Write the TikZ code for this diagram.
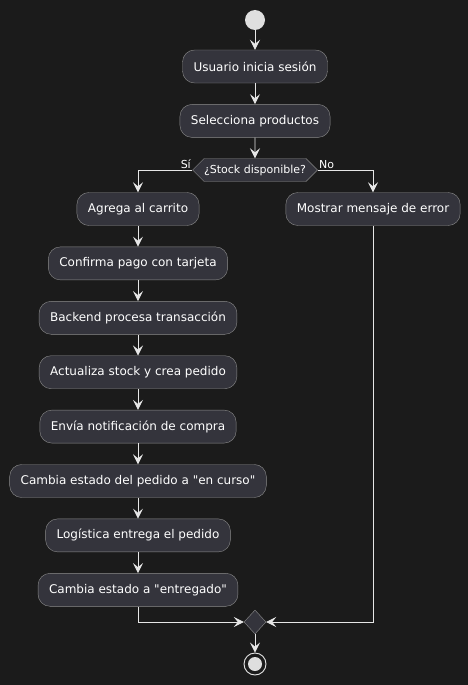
\documentclass[tikz,border=0pt]{standalone}
\usepackage{fontspec}
\setmainfont{DejaVu Sans}
\usepackage{xcolor}
\usepackage{tikz}
\usetikzlibrary{shapes.geometric, shapes.symbols, arrows.meta, positioning}

\definecolor{bgdark}{HTML}{1B1B1B}
\definecolor{actfill}{HTML}{34343C}
\definecolor{actline}{HTML}{8C8C8C}
\definecolor{flowline}{HTML}{E6E6E6}

\begin{document}
\begin{tikzpicture}[x=1pt, y=-1pt,
  act/.style={rectangle, rounded corners=12pt, draw=actline, fill=actfill,
              text=white, minimum height=33pt, inner xsep=11pt,
              font=\fontsize{12}{14}\selectfont},
  cond/.style={signal, signal to=west and east, draw=actline, fill=actfill,
               text=white, minimum height=23pt, inner xsep=0pt, inner ysep=2pt,
               font=\fontsize{11}{13}\selectfont},
  lbl/.style={text=white, inner sep=1pt, font=\fontsize{11}{13}\selectfont},
  arrow/.style={draw=flowline, line width=0.9pt,
                -{Stealth[length=10pt, width=10pt, inset=4pt]}}
]
\fill[bgdark] (0,0) rectangle (468,685);
\useasboundingbox (0,0) rectangle (468,685);

\node[circle, fill=gray!25!white, minimum size=20pt, inner sep=0pt] (start) at (255,20) {};
\node[act] (login) at (255,66.5) {Usuario inicia sesión};
\node[act, below=21pt of login] (select) {Selecciona productos};
\node[cond] (stock) at (255,170) {¿Stock disponible?};

% rama si
\node[act] (cart) at (138,209) {Agrega al carrito};
\node[act, below=21pt of cart] (pay) {Confirma pago con tarjeta};
\node[act, below=21pt of pay] (backend) {Backend procesa transacción};
\node[act, below=21pt of backend] (update) {Actualiza stock y crea pedido};
\node[act, below=21pt of update] (notify) {Envía notificación de compra};
\node[act, below=21pt of notify] (course) {Cambia estado del pedido a \textquotedbl en curso\textquotedbl};
\node[act, below=21pt of course] (ship) {Logística entrega el pedido};
\node[act, below=21pt of ship] (done) {Cambia estado a \textquotedbl entregado\textquotedbl};

% rama no
\node[act] (error) at (373,209) {Mostrar mensaje de error};

\node[diamond, draw=actline, fill=actfill, minimum width=22pt, minimum height=24pt,
      inner sep=0pt] (merge) at (255,622) {};
\node[circle, draw=flowline, line width=0.9pt, fill=bgdark, minimum size=22pt,
      inner sep=0pt] (stop) at (255,664) {};
\node[circle, fill=gray!25!white, minimum size=14pt, inner sep=0pt] (stopdot) at (stop) {};

\draw[arrow] (start) -- (login);
\draw[arrow] (login) -- (select);
\draw[arrow] (select) -- (stock);
\draw[arrow] (stock.west) -| node[lbl, pos=0, anchor=south east]{Sí} (cart);
\draw[arrow] (stock.east) -| node[lbl, pos=0, anchor=south west]{No} (error);
\draw[arrow] (cart) -- (pay);
\draw[arrow] (pay) -- (backend);
\draw[arrow] (backend) -- (update);
\draw[arrow] (update) -- (notify);
\draw[arrow] (notify) -- (course);
\draw[arrow] (course) -- (ship);
\draw[arrow] (ship) -- (done);
\draw[arrow] (done.south) |- (merge.west);
\draw[arrow] (error.south) |- (merge.east);
\draw[arrow] (merge) -- (stop);
\end{tikzpicture}
\end{document}
